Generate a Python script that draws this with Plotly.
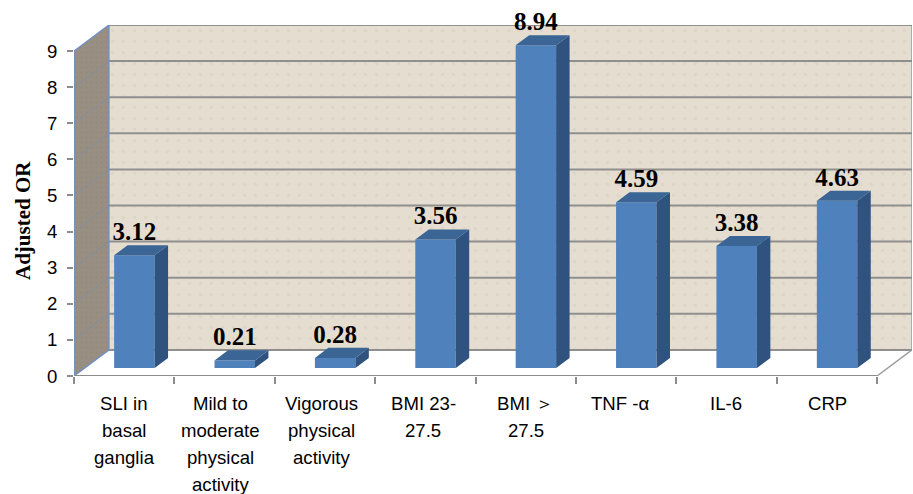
import plotly.graph_objects as go

# Data
category_lines = [
    ["SLI in", "basal", "ganglia"],
    ["Mild to", "moderate", "physical", "activity"],
    ["Vigorous", "physical", "activity"],
    ["BMI 23-", "27.5"],
    ["BMI \uff1e", "27.5"],
    ["TNF -\u03b1"],
    ["IL-6"],
    ["CRP"],
]
adjusted_or = [3.12, 0.21, 0.28, 3.56, 8.94, 4.59, 3.38, 4.63]
y_ticks = [0, 1, 2, 3, 4, 5, 6, 7, 8, 9]

# Pseudo-3D geometry (axis units)
N = len(adjusted_or)
WALL_DX, WALL_DY = 0.348, 0.722
BAR_LEFT, BAR_W = 0.40, 0.403
BAR_BASE = 0.222
BAR_DX, BAR_DY = 0.134, 0.278
XMAX, YMAX = N + WALL_DX, 9 + WALL_DY
LABEL_NUDGE = [0, -4, -3, -2, 0, -6, 0, 1]

WALL = "#e5ddcf"
SIDE = "#988f82"
GRID = "#8f8f8f"
EDGE = "#6f90c4"

fig = go.Figure()


def poly(xs, ys, fill, pattern=None, **kw):
    fig.add_trace(go.Scatter(x=xs, y=ys, mode="lines", fill="toself", fillcolor=fill,
                             line=dict(width=0), hoverinfo="skip", showlegend=False,
                             fillpattern=pattern, **kw))


def line(xs, ys, color, width):
    fig.add_trace(go.Scatter(x=xs, y=ys, mode="lines", line=dict(color=color, width=width),
                             hoverinfo="skip", showlegend=False, cliponaxis=False))


# Walls
poly([WALL_DX, XMAX, XMAX, WALL_DX], [WALL_DY, WALL_DY, YMAX, YMAX], WALL,
     dict(shape=".", size=11, solidity=0.08, fgcolor="#d6cdbc", bgcolor=WALL, fgopacity=0.45))
poly([0, WALL_DX, WALL_DX, 0], [0, WALL_DY, YMAX, 9], SIDE,
     dict(shape=".", size=5, solidity=0.12, fgcolor="#867d70", bgcolor=SIDE, fgopacity=0.35))

# Grid on walls
for k in y_ticks:
    line([WALL_DX, XMAX], [k + WALL_DY, k + WALL_DY], GRID, 2)
    if 0 < k < 9:
        line([0, WALL_DX], [k, k + WALL_DY], "#7e8ea6", 0.8)

# Wall outlines and floor
line([0, 0, WALL_DX, WALL_DX], [0, 9, YMAX, WALL_DY], EDGE, 1.4)
line([0, WALL_DX], [0, WALL_DY], EDGE, 1.4)
line([XMAX, XMAX], [WALL_DY, YMAX], EDGE, 1.2)
line([N, XMAX], [0, WALL_DY], "#9a9a9a", 1.4)
line([0, N], [0, 0], "#8c8c8c", 1.8)

# Bars on the overlay axes
x_left = [i + BAR_LEFT for i in range(N)]
x_mid = [x + BAR_W / 2 for x in x_left]
fig.add_trace(go.Bar(x=x_mid, y=adjusted_or, base=BAR_BASE, width=BAR_W, marker=dict(color="#4f81bd", line=dict(width=0)),
                     xaxis="x2", yaxis="y2", showlegend=False, hoverinfo="skip"))
sx, sy, tx, ty = [], [], [], []
for x0, v in zip(x_left, adjusted_or):
    x1 = x0 + BAR_W
    top = BAR_BASE + v
    sx += [x1, x1 + BAR_DX, x1 + BAR_DX, x1, x1, None]
    sy += [BAR_BASE, BAR_BASE + BAR_DY, top + BAR_DY, top, BAR_BASE, None]
    tx += [x0, x0 + BAR_DX, x1 + BAR_DX, x1, x0, None]
    ty += [top, top + BAR_DY, top + BAR_DY, top, top, None]
poly(sx, sy, "#30527e", xaxis="x2", yaxis="y2")
poly(tx, ty, "#3a6595", xaxis="x2", yaxis="y2")

# Value labels
fig.add_trace(go.Scatter(
    x=x_mid, y=[v + BAR_BASE + BAR_DY - 0.03 for v in adjusted_or],
    mode="text", text=[f"{v:.2f}" for v in adjusted_or], textposition="top center",
    textfont=dict(family="Liberation Serif", size=25, color="black", weight="bold"),
    xaxis="x2", yaxis="y2", cliponaxis=False, showlegend=False, hoverinfo="skip"))

# Category labels
annotations = []
for i, lines in enumerate(category_lines):
    for k, txt in enumerate(lines):
        annotations.append(dict(x=i + 0.5, y=0, xref="x", yref="paper", text=txt, showarrow=False,
                                xanchor="center", yanchor="middle", xshift=LABEL_NUDGE[i], yshift=-(27 + 27 * k),
                                font=dict(family="Liberation Sans", size=18.6, color="black")))
annotations.append(dict(x=-0.061, y=0.444, xref="paper", yref="paper", text="<b>Adjusted OR</b>", showarrow=False,
                        textangle=-90, xanchor="center", yanchor="middle",
                        font=dict(family="Liberation Serif", size=21, color="black")))

fig.update_layout(
    width=913, height=494,
    margin=dict(l=73.5, r=1, t=25, b=118, pad=0),
    paper_bgcolor="white", plot_bgcolor="white",
    font=dict(family="Liberation Sans", size=18.6, color="black"),
    annotations=annotations,
    showlegend=False,
    xaxis=dict(range=[0, XMAX], tickmode="array", tickvals=list(range(N + 1)), showticklabels=False,
               ticks="outside", ticklen=7, tickcolor="#8c8c8c", tickwidth=1.5, showgrid=False, zeroline=False),
    yaxis=dict(range=[0, YMAX], tickmode="array", tickvals=y_ticks, ticks="outside", ticklen=6,
               tickcolor="#8c8c8c", tickwidth=1.5, showgrid=False, zeroline=False, ticklabelstandoff=6),
    xaxis2=dict(range=[0, XMAX], overlaying="x", visible=False),
    yaxis2=dict(range=[0, YMAX], overlaying="y", visible=False),
)

fig.write_html("out.html", config=dict(displayModeBar=False), post_script="document.body.style.margin='0';")
